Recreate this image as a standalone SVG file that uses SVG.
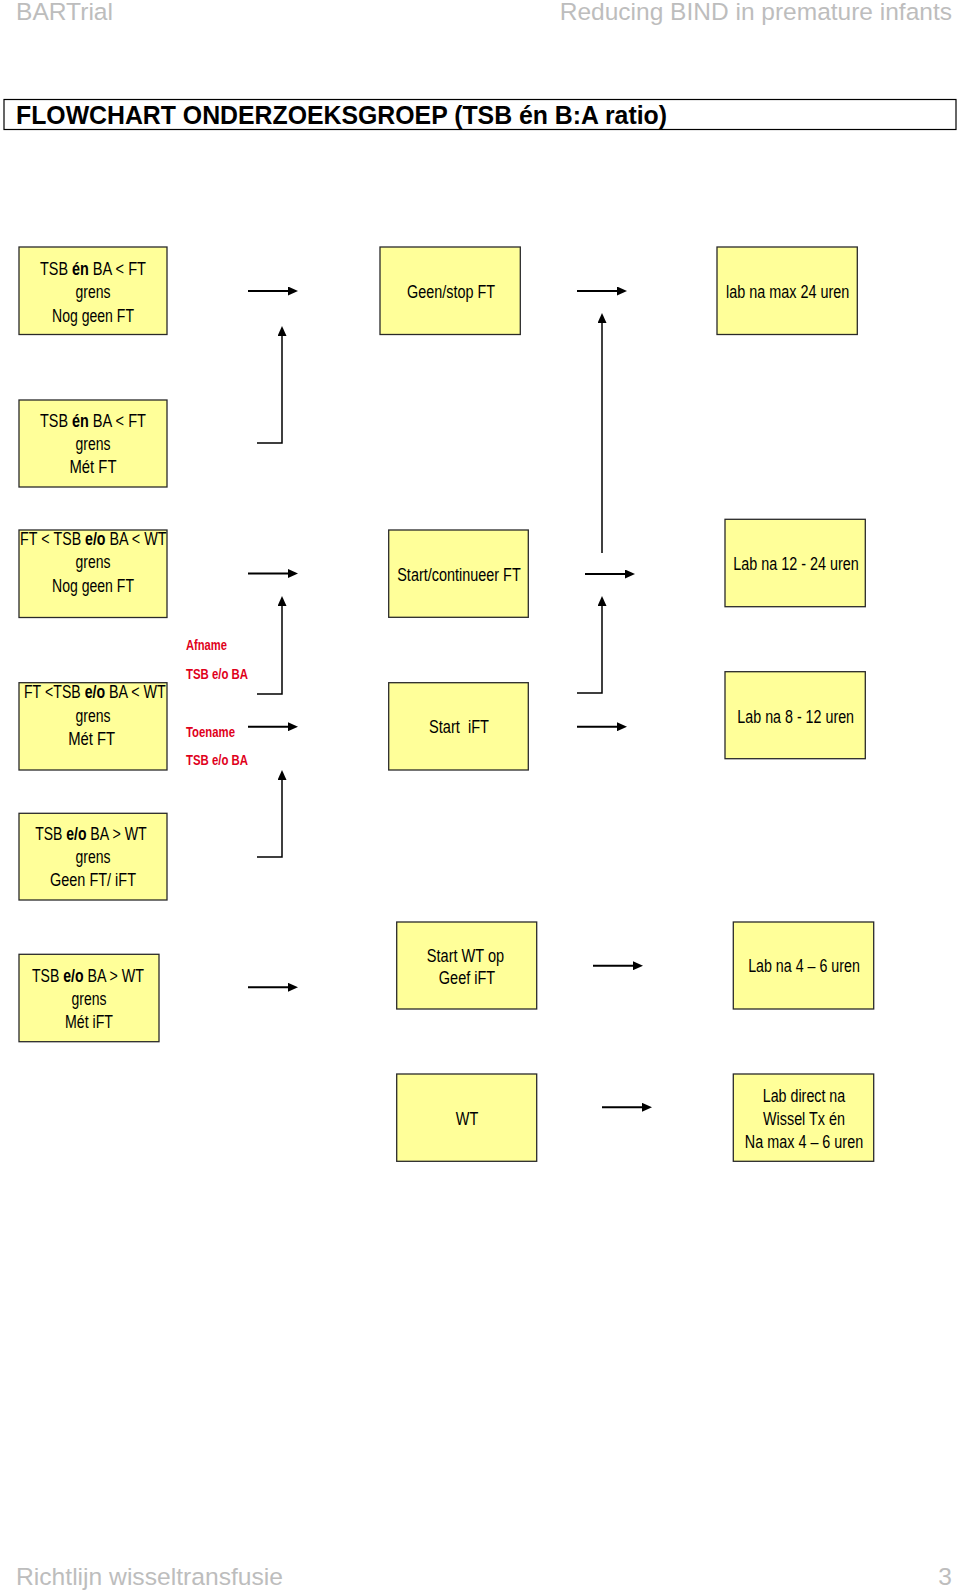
<svg xmlns="http://www.w3.org/2000/svg" width="960" height="1591" viewBox="0 0 960 1591">
<style>
.bg{fill:#ffffff}
.box{fill:#ffff99;stroke:#2a2a2a;stroke-width:1.3}
.t{font-family:"Liberation Sans Narrow","Liberation Sans",Arial,sans-serif;font-size:17.5px;fill:#000;text-anchor:middle}
.s{font-family:"Liberation Sans Narrow","Liberation Sans",Arial,sans-serif;font-size:17.5px;fill:#000;text-anchor:start}
.b{font-weight:bold}
.red{font-family:"Liberation Sans Narrow","Liberation Sans",Arial,sans-serif;font-size:14px;font-weight:bold;fill:#e0001b}
.hdr{font-family:"Liberation Sans",Arial,sans-serif;font-size:24.5px;fill:#bdbdbd}
.title{font-family:"Liberation Sans",Arial,sans-serif;font-size:25px;font-weight:bold;fill:#000}
.tbox{fill:#ffffff;stroke:#000;stroke-width:1.2}
.h{stroke:#000;stroke-width:2;fill:none}
.v{stroke:#000;stroke-width:1.5;fill:none}
</style>
<defs>
<marker id="ah" markerUnits="userSpaceOnUse" markerWidth="10" markerHeight="9" viewBox="0 0 10 9" refX="0" refY="4.5" orient="auto">
<path d="M0,0 L10,4.5 L0,9 z" fill="#000"/>
</marker>
</defs>
<rect class="bg" x="0" y="0" width="960" height="1591"/>

<g id="header">
<text class="hdr" x="16" y="20" textLength="97" lengthAdjust="spacingAndGlyphs">BARTrial</text>
<text class="hdr" x="952" y="20" text-anchor="end">Reducing BIND in premature infants</text>
</g>

<g id="title">
<rect class="tbox" x="4" y="99.5" width="952" height="30"/>
<text class="title" x="16" y="123.5" textLength="651" lengthAdjust="spacingAndGlyphs">FLOWCHART ONDERZOEKSGROEP (TSB én B:A ratio)</text>
</g>

<g id="connectors">
<line class="h" x1="248" y1="291" x2="288" y2="291" marker-end="url(#ah)"/>
<path class="v" d="M257,443 H282 V336" marker-end="url(#ah)"/>
<line class="h" x1="577" y1="291" x2="617" y2="291" marker-end="url(#ah)"/>
<path class="v" d="M602,553 V323" marker-end="url(#ah)"/>
<line class="h" x1="248" y1="573.5" x2="288" y2="573.5" marker-end="url(#ah)"/>
<path class="v" d="M257,694 H282 V606" marker-end="url(#ah)"/>
<line class="h" x1="585" y1="574" x2="625" y2="574" marker-end="url(#ah)"/>
<path class="v" d="M577,693 H602 V606" marker-end="url(#ah)"/>
<line class="h" x1="248" y1="726.7" x2="288" y2="726.7" marker-end="url(#ah)"/>
<line class="h" x1="577" y1="726.7" x2="617" y2="726.7" marker-end="url(#ah)"/>
<path class="v" d="M257,857 H282 V780" marker-end="url(#ah)"/>
<line class="h" x1="248" y1="987.3" x2="288" y2="987.3" marker-end="url(#ah)"/>
<line class="h" x1="593" y1="965.7" x2="633" y2="965.7" marker-end="url(#ah)"/>
<line class="h" x1="602" y1="1107.3" x2="642" y2="1107.3" marker-end="url(#ah)"/>
</g>

<g id="labels">
<text class="red" x="186" y="650" textLength="41" lengthAdjust="spacingAndGlyphs">Afname</text>
<text class="red" x="186" y="679" textLength="62" lengthAdjust="spacingAndGlyphs">TSB e/o BA</text>
<text class="red" x="186" y="736.7" textLength="49" lengthAdjust="spacingAndGlyphs">Toename</text>
<text class="red" x="186" y="765" textLength="62" lengthAdjust="spacingAndGlyphs">TSB e/o BA</text>
</g>

<g id="n1">
<rect class="box" x="19" y="247" width="148" height="87.5"/>
<text class="s" x="40" y="275" textLength="28" lengthAdjust="spacingAndGlyphs">TSB</text>
<text class="s b" x="72" y="275" textLength="16.8" lengthAdjust="spacingAndGlyphs">én</text>
<text class="s" x="92.8" y="275" textLength="53.2" lengthAdjust="spacingAndGlyphs">BA &lt; FT</text>
<text class="t" x="93" y="298" textLength="35" lengthAdjust="spacingAndGlyphs">grens</text>
<text class="t" x="93" y="321.5" textLength="82" lengthAdjust="spacingAndGlyphs">Nog geen FT</text>
</g>

<g id="n2">
<rect class="box" x="19" y="400" width="148" height="87"/>
<text class="s" x="40" y="427" textLength="28" lengthAdjust="spacingAndGlyphs">TSB</text>
<text class="s b" x="72" y="427" textLength="16.8" lengthAdjust="spacingAndGlyphs">én</text>
<text class="s" x="92.8" y="427" textLength="53.2" lengthAdjust="spacingAndGlyphs">BA &lt; FT</text>
<text class="t" x="93" y="450" textLength="35" lengthAdjust="spacingAndGlyphs">grens</text>
<text class="t" x="93" y="473" textLength="47" lengthAdjust="spacingAndGlyphs">Mét FT</text>
</g>

<g id="n3">
<rect class="box" x="19" y="530" width="148" height="87.5"/>
<text class="s" x="20.05" y="545" textLength="29.4" lengthAdjust="spacingAndGlyphs">FT &lt;</text>
<text class="s" x="53.55" y="545" textLength="27.6" lengthAdjust="spacingAndGlyphs">TSB</text>
<text class="s b" x="85.05" y="545" textLength="20.5" lengthAdjust="spacingAndGlyphs">e/o</text>
<text class="s" x="109.5" y="545" textLength="57.1" lengthAdjust="spacingAndGlyphs">BA &lt; WT</text>
<text class="t" x="93" y="568.3" textLength="35" lengthAdjust="spacingAndGlyphs">grens</text>
<text class="t" x="93" y="591.7" textLength="82" lengthAdjust="spacingAndGlyphs">Nog geen FT</text>
</g>

<g id="n4">
<rect class="box" x="19" y="682.7" width="148" height="87.3"/>
<text class="s" x="23.95" y="698.3" textLength="17.2" lengthAdjust="spacingAndGlyphs">FT</text>
<text class="s" x="45.08" y="698.3" textLength="35.6" lengthAdjust="spacingAndGlyphs">&lt;TSB</text>
<text class="s b" x="84.65" y="698.3" textLength="20.4" lengthAdjust="spacingAndGlyphs">e/o</text>
<text class="s" x="108.95" y="698.3" textLength="56.8" lengthAdjust="spacingAndGlyphs">BA &lt; WT</text>
<text class="t" x="93" y="721.7" textLength="35" lengthAdjust="spacingAndGlyphs">grens</text>
<text class="t" x="91.7" y="745" textLength="47" lengthAdjust="spacingAndGlyphs">Mét FT</text>
</g>

<g id="n5">
<rect class="box" x="19" y="813.3" width="148" height="86.7"/>
<text class="s" x="35.15" y="840" textLength="27.2" lengthAdjust="spacingAndGlyphs">TSB</text>
<text class="s b" x="66.25" y="840" textLength="20.2" lengthAdjust="spacingAndGlyphs">e/o</text>
<text class="s" x="90.35" y="840" textLength="56.4" lengthAdjust="spacingAndGlyphs">BA &gt; WT</text>
<text class="t" x="93" y="863" textLength="35" lengthAdjust="spacingAndGlyphs">grens</text>
<text class="t" x="93" y="886" textLength="86" lengthAdjust="spacingAndGlyphs">Geen FT/ iFT</text>
</g>

<g id="n6">
<rect class="box" x="19" y="954.3" width="140" height="87.4"/>
<text class="s" x="32" y="981.7" textLength="27.3" lengthAdjust="spacingAndGlyphs">TSB</text>
<text class="s b" x="63.2" y="981.7" textLength="20.3" lengthAdjust="spacingAndGlyphs">e/o</text>
<text class="s" x="87.4" y="981.7" textLength="56.6" lengthAdjust="spacingAndGlyphs">BA &gt; WT</text>
<text class="t" x="89" y="1004.5" textLength="35" lengthAdjust="spacingAndGlyphs">grens</text>
<text class="t" x="89" y="1027.5" textLength="48" lengthAdjust="spacingAndGlyphs">Mét iFT</text>
</g>

<g id="m1">
<rect class="box" x="380" y="247" width="140.3" height="87.5"/>
<text class="t" x="451" y="298" textLength="88" lengthAdjust="spacingAndGlyphs">Geen/stop FT</text>
</g>

<g id="m2">
<rect class="box" x="388.7" y="530" width="139.6" height="87.3"/>
<text class="t" x="459" y="580.5" textLength="123.5" lengthAdjust="spacingAndGlyphs">Start/continueer FT</text>
</g>

<g id="m3">
<rect class="box" x="388.7" y="682.7" width="139.6" height="87.3"/>
<text class="t" x="459" y="733.3" textLength="60" lengthAdjust="spacingAndGlyphs" xml:space="preserve">Start  iFT</text>
</g>

<g id="m4">
<rect class="box" x="396.7" y="922" width="140" height="87"/>
<text class="t" x="465.5" y="961.7" textLength="77.3" lengthAdjust="spacingAndGlyphs">Start WT op</text>
<text class="t" x="467" y="984" textLength="56.3" lengthAdjust="spacingAndGlyphs">Geef iFT</text>
</g>

<g id="m5">
<rect class="box" x="396.7" y="1074" width="140" height="87.3"/>
<text class="t" x="467" y="1125" textLength="22.5" lengthAdjust="spacingAndGlyphs">WT</text>
</g>

<g id="r1">
<rect class="box" x="717" y="247" width="140.3" height="87.5"/>
<text class="t" x="787.7" y="298.3" textLength="123.3" lengthAdjust="spacingAndGlyphs">lab na max 24 uren</text>
</g>

<g id="r2">
<rect class="box" x="725" y="519.3" width="140.3" height="87.4"/>
<text class="t" x="796" y="570" textLength="125.4" lengthAdjust="spacingAndGlyphs">Lab na 12 - 24 uren</text>
</g>

<g id="r3">
<rect class="box" x="725" y="671.7" width="140.3" height="87"/>
<text class="t" x="795.7" y="723.3" textLength="116.7" lengthAdjust="spacingAndGlyphs">Lab na 8 - 12 uren</text>
</g>

<g id="r4">
<rect class="box" x="733.3" y="922" width="140.4" height="87"/>
<text class="t" x="804" y="972.3" textLength="111.7" lengthAdjust="spacingAndGlyphs">Lab na 4 – 6 uren</text>
</g>

<g id="r5">
<rect class="box" x="733.3" y="1074" width="140.4" height="87.3"/>
<text class="t" x="804" y="1102.3" textLength="82.5" lengthAdjust="spacingAndGlyphs">Lab direct na</text>
<text class="t" x="804" y="1125" textLength="82" lengthAdjust="spacingAndGlyphs">Wissel Tx én</text>
<text class="t" x="804" y="1148.3" textLength="118.3" lengthAdjust="spacingAndGlyphs">Na max 4 – 6 uren</text>
</g>

<g id="footer">
<text class="hdr" x="16" y="1585" textLength="267" lengthAdjust="spacingAndGlyphs">Richtlijn wisseltransfusie</text>
<text class="hdr" x="952" y="1585" text-anchor="end">3</text>
</g>
</svg>
